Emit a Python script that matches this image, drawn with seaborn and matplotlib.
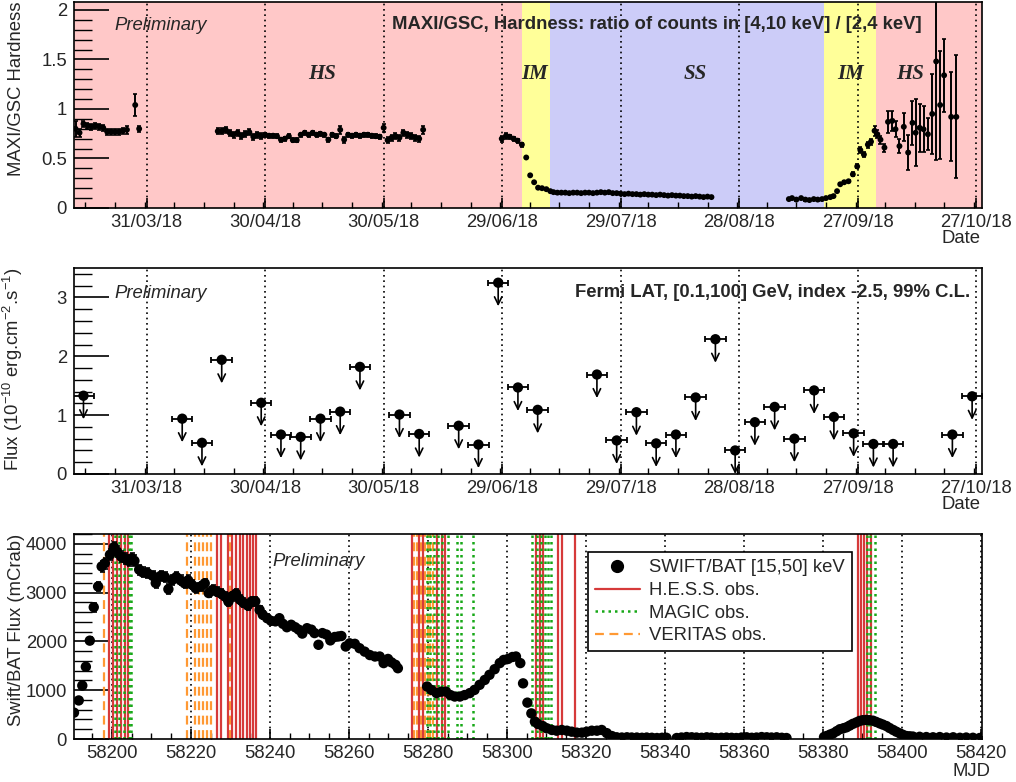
import numpy as np
import pandas as pd
import seaborn as sns
import matplotlib
matplotlib.use("Agg")
import matplotlib.pyplot as plt
from matplotlib.ticker import MultipleLocator, FixedLocator
from matplotlib.lines import Line2D

# ---------------- data ----------------
# MAXI/GSC hardness ratio
hard_mjd = [58190.0, 58191.0, 58192.0, 58193.0, 58194.0, 58195.0, 58196.0, 58197.0, 58198.0, 58199.0,
            58200.0, 58201.0, 58202.0, 58203.0, 58205.1, 58206.1,
            58226, 58227, 58228, 58229, 58230, 58231, 58232, 58233, 58234, 58235,
            58236, 58237, 58238, 58239, 58240, 58241, 58242, 58243, 58244, 58245,
            58246, 58247, 58248, 58249, 58250, 58251, 58252, 58253, 58254, 58255,
            58256, 58257, 58258, 58259, 58260, 58261, 58262, 58263, 58264, 58265,
            58266, 58267, 58268, 58269, 58270, 58271, 58272, 58273, 58274, 58275,
            58276, 58277, 58278,
            58297.9, 58299.0, 58299.9, 58300.9, 58301.9, 58303.0, 58304.1, 58305.1, 58306.1, 58307.1,
            58308.1, 58309.2, 58310.2,
            58311, 58312, 58313, 58314, 58315, 58316, 58317, 58318, 58319, 58320,
            58321, 58322, 58323, 58324, 58325, 58326, 58327, 58328, 58329, 58330,
            58331, 58332, 58333, 58334, 58335, 58336, 58337, 58338, 58339, 58340,
            58341, 58342, 58343, 58344, 58345, 58346, 58347, 58348, 58349, 58350, 58351,
            58370.6, 58371.4, 58372.5, 58373.7, 58374.8, 58375.8, 58376.9, 58377.9, 58379.0, 58380.0,
            58381.1, 58381.9, 58382.8, 58383.6, 58384.6, 58385.7, 58386.8, 58387.9, 58388.7, 58389.6,
            58390.6, 58391.4, 58392.3, 58393.0, 58393.8, 58394.8, 58395.7, 58396.8, 58397.6, 58398.6,
            58399.7, 58400.8, 58401.9, 58402.7, 58403.7, 58404.7, 58405.8, 58406.9, 58407.9, 58408.9,
            58409.9, 58411.7, 58413.0]
hard_val = [0.80, 0.76, 0.85, 0.83, 0.82, 0.83, 0.82, 0.81, 0.77, 0.77,
            0.77, 0.77, 0.78, 0.79, 1.04, 0.80,
            0.775, 0.775, 0.79, 0.76, 0.74, 0.76, 0.73, 0.75, 0.765, 0.72,
            0.74, 0.725, 0.74, 0.73, 0.73, 0.725, 0.69, 0.70, 0.725, 0.685,
            0.685, 0.74, 0.76, 0.74, 0.76, 0.74, 0.75, 0.74, 0.69, 0.74,
            0.725, 0.79, 0.69, 0.74, 0.73, 0.74, 0.73, 0.74, 0.74, 0.73,
            0.725, 0.72, 0.81, 0.685, 0.71, 0.725, 0.71, 0.76, 0.74, 0.725,
            0.71, 0.70, 0.79,
            0.70, 0.73, 0.72, 0.70, 0.68, 0.64, 0.51, 0.33, 0.26, 0.205,
            0.20, 0.19, 0.17,
            0.16, 0.155, 0.155, 0.155, 0.15, 0.155, 0.155, 0.15, 0.155, 0.155,
            0.15, 0.155, 0.16, 0.155, 0.16, 0.15, 0.15, 0.145, 0.14, 0.145,
            0.14, 0.14, 0.135, 0.14, 0.135, 0.135, 0.13, 0.135, 0.13, 0.125,
            0.13, 0.125, 0.125, 0.12, 0.12, 0.115, 0.12, 0.115, 0.11, 0.115, 0.11,
            0.09, 0.10, 0.085, 0.10, 0.085, 0.08, 0.09, 0.085, 0.09, 0.10,
            0.11, 0.12, 0.17, 0.24, 0.26, 0.27, 0.34, 0.42, 0.585, 0.54,
            0.64, 0.67, 0.78, 0.745, 0.69, 0.61, 0.87, 0.88, 0.795, 0.625,
            0.82, 0.56, 0.86, 0.76, 0.81, 0.795, 0.745, 0.95, 1.48, 1.04,
            1.34, 0.92, 0.92]
hard_err = [0.08, 0.04, 0.03, 0.03, 0.03, 0.03, 0.03, 0.03, 0.03, 0.03,
            0.03, 0.03, 0.03, 0.04, 0.11, 0.03,
            0.03, 0.03, 0.03, 0.03, 0.03, 0.03, 0.03, 0.03, 0.03, 0.03,
            0.03, 0.03, 0.02, 0.02, 0.02, 0.02, 0.02, 0.02, 0.02, 0.02,
            0.02, 0.02, 0.02, 0.02, 0.02, 0.02, 0.02, 0.02, 0.02, 0.02,
            0.02, 0.04, 0.03, 0.02, 0.02, 0.02, 0.02, 0.02, 0.02, 0.02,
            0.02, 0.02, 0.04, 0.03, 0.03, 0.03, 0.03, 0.03, 0.03, 0.03,
            0.03, 0.03, 0.04,
            0.03, 0.03, 0.02, 0.02, 0.02, 0.02, 0.01, 0.01, 0.01, 0.01,
            0.01, 0.01, 0.01,
            0.01, 0.01, 0.01, 0.01, 0.01, 0.01, 0.01, 0.01, 0.01, 0.01,
            0.01, 0.01, 0.01, 0.01, 0.01, 0.01, 0.01, 0.01, 0.01, 0.01,
            0.01, 0.01, 0.01, 0.01, 0.01, 0.01, 0.01, 0.01, 0.01, 0.01,
            0.01, 0.01, 0.01, 0.01, 0.01, 0.01, 0.01, 0.01, 0.01, 0.01, 0.01,
            0.01, 0.01, 0.01, 0.01, 0.01, 0.01, 0.01, 0.01, 0.01, 0.01,
            0.01, 0.01, 0.01, 0.01, 0.01, 0.01, 0.02, 0.02, 0.03, 0.03,
            0.03, 0.03, 0.05, 0.04, 0.04, 0.04, 0.11, 0.10, 0.08, 0.07,
            0.14, 0.18, 0.22, 0.34, 0.24, 0.23, 0.16, 0.40, 1.00, 0.55,
            0.37, 0.45, 0.62]

# Fermi LAT upper limits (5-day bins)
fermi_mjd = [58192, 58217, 58222, 58227, 58237, 58242, 58247, 58252, 58257, 58262,
             58272, 58277, 58287, 58292, 58297, 58302, 58307, 58322, 58327, 58332,
             58337, 58342, 58347, 58352, 58357, 58362, 58367, 58372, 58377, 58382,
             58387, 58392, 58397, 58412, 58417]
fermi_ul = [1.33, 0.94, 0.53, 1.94, 1.21, 0.67, 0.63, 0.94, 1.06, 1.82,
            1.01, 0.68, 0.82, 0.50, 3.25, 1.47, 1.09, 1.69, 0.57, 1.05,
            0.52, 0.67, 1.30, 2.29, 0.40, 0.88, 1.14, 0.60, 1.42, 0.97,
            0.69, 0.51, 0.51, 0.67, 1.32]
fermi_halfbin = 2.6

# Swift/BAT light curve
bat_mjd = [58190.4, 58191.6, 58192.5, 58193.4, 58194.4, 58195.4, 58196.5, 58197.4, 58198.2, 58199.5,
           58200.5, 58201.3, 58202.3, 58203.3, 58204.2, 58205.0, 58205.7, 58206.9, 58207.8, 58209.0,
           58210.3, 58211.1, 58212.4, 58213.4, 58214.3, 58215.3, 58216.3, 58217.4, 58218.4, 58219.3,
           58220.2, 58221.2, 58222.5, 58223.5, 58224.5, 58225.5, 58226.5, 58227.6, 58228.6, 58229.5,
           58230.3, 58231.4, 58232.4, 58233.3, 58234.4, 58235.4, 58236.3, 58237.4, 58238.2, 58239.3,
           58240.3, 58241.4, 58242.4, 58243.3, 58244.3, 58245.4, 58246.4, 58247.3, 58248.2, 58249.4,
           58250.5, 58251.3, 58252.3, 58253.3, 58254.3, 58255.3, 58256.4, 58257.3, 58258.1, 58259.2,
           58260.2, 58261.5, 58262.7, 58264.0, 58265.3, 58266.6, 58267.8, 58268.8, 58269.9, 58270.8,
           58271.8, 58272.4,
           58279.8, 58280.9, 58282.2, 58283.4, 58284.6, 58285.7, 58286.8, 58288.1, 58289.3, 58290.6,
           58291.8, 58293.1, 58294.4, 58295.6, 58296.9, 58298.2, 58299.2, 58300.3, 58301.4, 58302.3,
           58303.4, 58304.1, 58305.2, 58306.2, 58307.1, 58307.9, 58309.1, 58310.1, 58311.4, 58312.6,
           58313.9, 58315.2, 58316.4, 58317.7, 58319.0, 58320.2, 58321.5, 58322.8, 58324.0, 58325.3,
           58326.6, 58327.8, 58329.1, 58330.4, 58331.6, 58332.9, 58334.2, 58335.4, 58336.7, 58338.0,
           58339.3, 58340.4, 58343.0, 58344.2, 58345.5, 58346.8, 58348.0, 58349.3, 58350.6, 58351.8,
           58353.0, 58354.3, 58355.6, 58356.9, 58358.1, 58359.4, 58360.7, 58362.0, 58363.2, 58364.5,
           58365.8, 58367.0, 58368.3, 58369.6, 58370.8,
           58380.3, 58380.9, 58381.8, 58382.6, 58383.5, 58384.3, 58385.2, 58386.0, 58386.8, 58387.6,
           58388.5, 58389.3, 58390.1, 58391.0, 58391.8, 58392.7, 58393.5, 58394.4, 58395.2, 58396.1,
           58396.9, 58397.8, 58398.6, 58399.5, 58400.3, 58401.2, 58402.0, 58402.8, 58404.5, 58406.2,
           58407.9, 58409.6, 58411.3, 58413.0, 58414.7, 58416.3, 58418.0, 58419.7]
bat_flux = [540, 790, 1095, 1480, 2015, 2700, 3125, 3535, 3600, 3775,
            3930, 3840, 3740, 3700, 3650, 3700, 3650, 3470, 3415, 3400,
            3345, 3195, 3345, 3320, 3070, 3260, 3320, 3250, 3190, 3250,
            3165, 3090, 3125, 3190, 2990, 3055, 3020, 2980, 2920, 2815,
            2920, 2980, 2855, 2790, 2735, 2820, 2820, 2645, 2545, 2475,
            2420, 2410, 2475, 2360, 2290, 2340, 2290, 2240, 2160, 2270,
            2240, 2170, 1930, 2170, 2140, 2020, 2090, 2100, 2110, 1895,
            1960, 1950, 1860, 1790, 1720, 1690, 1690, 1555, 1640, 1570,
            1520, 1450,
            1075, 1005, 940, 970, 970, 900, 870, 870, 900, 940,
            1005, 1110, 1210, 1315, 1430, 1555, 1620, 1640, 1680, 1690,
            1555, 1140, 745, 525, 355, 305, 265, 220, 185, 170,
            185, 170, 150, 130, 130, 150, 170, 170, 185, 120,
            60, 35, 30, 35, 30, 30, 25, 30, 25, 20,
            25, 25, 20, 30, 40, 35, 30, 25, 35, 30,
            20, 25, 30, 25, 20, 30, 35, 25, 30, 40,
            35, 30, 35, 25, 20,
            40, 60, 90, 115, 160, 200, 220, 240, 275, 310,
            340, 370, 385, 390, 385, 375, 350, 320, 295, 265,
            225, 185, 150, 115, 85, 60, 55, 50, 45, 40,
            35, 40, 30, 35, 25, 30, 25, 20]
bat_err = [40, 45, 50, 60, 70, 90, 100, 110, 110, 110,
           110, 110, 110, 110, 110, 110, 110, 100, 100, 100,
           100, 100, 100, 100, 100, 100, 100, 100, 100, 100,
           100, 100, 90, 90, 90, 90, 90, 90, 90, 90,
           90, 90, 90, 90, 90, 90, 90, 80, 80, 80,
           60, 60, 60, 60, 60, 60, 60, 60, 60, 60,
           60, 60, 60, 60, 60, 60, 60, 60, 60, 60,
           50, 50, 50, 50, 50, 50, 50, 50, 50, 50,
           50, 50,
           40, 40, 40, 40, 40, 40, 40, 40, 40, 40,
           40, 40, 40, 40, 40, 40, 40, 40, 40, 40,
           40, 40, 30, 30, 30, 30, 30, 30, 30, 30,
           30, 30, 30, 30, 30, 30, 30, 30, 30, 30,
           20, 20, 20, 20, 20, 20, 20, 20, 20, 20,
           20, 20, 20, 20, 20, 20, 20, 20, 20, 20,
           20, 20, 20, 20, 20, 20, 20, 20, 20, 20,
           20, 20, 20, 20, 20,
           20, 20, 20, 20, 20, 20, 20, 20, 20, 20,
           20, 20, 20, 20, 20, 20, 20, 20, 20, 20,
           20, 20, 20, 20, 20, 20, 20, 20, 20, 20,
           20, 20, 20, 20, 20, 20, 20, 20]

# IACT observation dates (MJD)
hess_mjd = [58199.3, 58200.2, 58201.4, 58202.3, 58203.2, 58204.0,
            58226.5, 58227.5, 58229.5, 58230.3, 58231.4, 58232.4, 58233.2, 58234.1, 58234.9, 58235.8, 58236.6,
            58276.1, 58277.8, 58278.8, 58282.4, 58283.5, 58284.3,
            58307.3, 58308.4, 58309.2, 58313.0, 58314.0, 58317.2,
            58388.9, 58389.6, 58390.4, 58391.3, 58392.2]
magic_mjd = [58200.8, 58201.8, 58203.0, 58204.4, 58204.9,
             58279.7, 58280.5, 58281.5, 58282.6, 58283.7, 58285.1, 58287.4, 58288.5, 58291.5,
             58306.3, 58307.6, 58308.6, 58309.7, 58310.5, 58311.3,
             58391.1, 58391.9, 58393.2]
veritas_mjd = [58198.0, 58218.9, 58221.0, 58222.0, 58223.0, 58224.0, 58225.0, 58229.9,
               58276.5, 58277.2, 58278.0, 58278.6, 58279.3, 58280.0, 58280.6, 58281.4]

# date axis of the two upper panels
date_tick_mjd = [58208, 58238, 58268, 58298, 58328, 58358, 58388, 58418]
date_tick_labels = ["31/03/18", "30/04/18", "30/05/18", "29/06/18",
                    "29/07/18", "28/08/18", "27/09/18", "27/10/18"]

# spectral states
state_edges = [58189.6, 58303.0, 58310.1, 58379.5, 58392.7, 58419.5]
state_names = ["HS", "IM", "SS", "IM", "HS"]
state_label_mjd = [58252.4, 58306.3, 58346.9, 58386.1, 58401.3]
state_colors = ["#ffc8c8", "#ffff99", "#ccccf8", "#ffff99", "#ffc8c8"]

# ---------------- style ----------------
sns.set_theme(style="white")
plt.rcParams["font.family"] = ["Liberation Sans", "DejaVu Sans"]
plt.rcParams["mathtext.default"] = "regular"
plt.rcParams["axes.linewidth"] = 1.2

FS = 13.3
fig = plt.figure(figsize=(10.16, 7.82), dpi=100)
L, W = 74 / 1016, 908 / 1016
ax1 = fig.add_axes([L, 1 - 208 / 782, W, 206 / 782])
ax2 = fig.add_axes([L, 1 - 474 / 782, W, 206 / 782])
ax3 = fig.add_axes([L, 1 - 739 / 782, W, 205 / 782])

def style_axis(ax):
    for s in ax.spines.values():
        s.set_color("black")
        s.set_linewidth(1.2)
    ax.tick_params(axis="y", which="major", direction="in", length=25, width=1.2,
                   labelsize=FS, pad=5, left=True, right=False, color="black")
    ax.tick_params(axis="y", which="minor", direction="in", length=13, width=1.0,
                   left=True, right=False, color="black")
    ax.tick_params(axis="x", which="major", direction="in", length=7, width=1.2,
                   labelsize=FS, pad=4, bottom=True, top=False, color="black")
    ax.tick_params(axis="x", which="minor", direction="in", length=4, width=1.0,
                   bottom=True, top=False, color="black")
    ax.grid(False)
    ax.xaxis.grid(True, which="major", linestyle=(0, (1, 2.2)), color="black", linewidth=1.2)

# ---------------- top: hardness ----------------
ax = ax1
for i in range(len(state_names)):
    ax.axvspan(state_edges[i], state_edges[i + 1], color=state_colors[i], lw=0, zorder=0)
ax.errorbar(hard_mjd, hard_val, yerr=hard_err, fmt="none", ecolor="black",
            elinewidth=1.4, capsize=1.5, capthick=1.2, zorder=3)
sns.scatterplot(x=hard_mjd, y=hard_val, ax=ax, color="black", s=18, edgecolor="none",
                zorder=4, legend=False)
ax.set_xlim(58189.6, 58419.5)
ax.set_ylim(0, 2.08)
style_axis(ax)
ax.xaxis.set_major_locator(FixedLocator(date_tick_mjd))
ax.set_xticklabels(date_tick_labels)
ax.xaxis.set_minor_locator(MultipleLocator(7.5))
ax.yaxis.set_minor_locator(MultipleLocator(0.1))
ax.set_yticks([0, 0.5, 1, 1.5, 2])
ax.set_yticklabels(["0", "0.5", "1", "1.5", "2"])
ax.set_ylabel("MAXI/GSC Hardness", fontsize=FS, loc="top")
ax.yaxis.set_label_coords(-0.054, 1.0)
ax.set_xlabel("Date", fontsize=FS, loc="right")
ax.xaxis.set_label_coords(0.998, -0.105)
ax.xaxis.label.set_va("top")
for nm, xm in zip(state_names, state_label_mjd):
    ax.text(xm, 1.35, nm, fontsize=15, fontweight="bold", fontstyle="italic",
            family="Liberation Serif", ha="center", va="center", zorder=5)
ax.text(0.045, 0.885, "Preliminary", transform=ax.transAxes, fontsize=FS,
        fontstyle="italic", ha="left", va="center", zorder=5)
ax.text(0.934, 0.893, "MAXI/GSC, Hardness: ratio of counts in [4,10 keV] / [2,4 keV]",
        transform=ax.transAxes, fontsize=FS, fontweight="bold", ha="right", va="center", zorder=5)

# ---------------- middle: Fermi ----------------
ax = ax2
ax.errorbar(fermi_mjd, fermi_ul, xerr=fermi_halfbin, fmt="none", ecolor="black",
            elinewidth=1.3, capsize=2.5, capthick=1.3, zorder=3)
sns.scatterplot(x=fermi_mjd, y=fermi_ul, ax=ax, color="black", s=55, edgecolor="none",
                zorder=4, legend=False)
for xm, v in zip(fermi_mjd, fermi_ul):
    ax.annotate("", xy=(xm, v - 0.40), xytext=(xm, v),
                arrowprops=dict(arrowstyle="->,head_width=0.22,head_length=0.45",
                                color="black", lw=1.2, shrinkA=0, shrinkB=0), zorder=3)
ax.set_xlim(58189.6, 58419.5)
ax.set_ylim(0, 3.5)
style_axis(ax)
ax.xaxis.set_major_locator(FixedLocator(date_tick_mjd))
ax.set_xticklabels(date_tick_labels)
ax.xaxis.set_minor_locator(MultipleLocator(7.5))
ax.yaxis.set_major_locator(MultipleLocator(1))
ax.yaxis.set_minor_locator(MultipleLocator(0.2))
ax.set_ylabel("Flux (10$^{-10}$ erg.cm$^{-2}$.s$^{-1}$)", fontsize=FS, loc="top")
ax.yaxis.set_label_coords(-0.054, 1.0)
ax.set_xlabel("Date", fontsize=FS, loc="right")
ax.xaxis.set_label_coords(0.998, -0.105)
ax.xaxis.label.set_va("top")
ax.text(0.045, 0.874, "Preliminary", transform=ax.transAxes, fontsize=FS,
        fontstyle="italic", ha="left", va="center", zorder=5)
ax.text(0.987, 0.879, "Fermi LAT, [0.1,100] GeV, index -2.5, 99% C.L.",
        transform=ax.transAxes, fontsize=FS, fontweight="bold", ha="right", va="center", zorder=5)

# ---------------- bottom: Swift/BAT ----------------
ax = ax3
RED, GREEN, ORANGE = "#d63a3a", "#17a817", "#ff9933"
for xm in veritas_mjd:
    ax.axvline(xm, color=ORANGE, lw=1.6, linestyle=(0, (4, 2.5)), zorder=2)
for xm in hess_mjd:
    ax.axvline(xm, color=RED, lw=1.6, linestyle="-", zorder=2)
for xm in magic_mjd:
    ax.axvline(xm, color=GREEN, lw=1.8, linestyle=(0, (1, 1.6)), zorder=2)
ax.errorbar(bat_mjd, bat_flux, yerr=bat_err, fmt="none", ecolor="black",
            elinewidth=1.3, capsize=1.8, capthick=1.2, zorder=3)
sns.scatterplot(x=bat_mjd, y=bat_flux, ax=ax, color="black", s=56, edgecolor="none",
                zorder=4, legend=False)
ax.set_xlim(58190.4, 58420.3)
ax.set_ylim(0, 4200)
style_axis(ax)
ax.xaxis.set_major_locator(MultipleLocator(20))
ax.xaxis.set_minor_locator(MultipleLocator(5))
ax.xaxis.set_major_formatter(matplotlib.ticker.FuncFormatter(lambda v, p: f"{v:.0f}"))
ax.yaxis.set_major_locator(MultipleLocator(1000))
ax.yaxis.set_minor_locator(MultipleLocator(200))
ax.set_ylabel("Swift/BAT Flux (mCrab)", fontsize=FS, loc="top")
ax.yaxis.set_label_coords(-0.054, 1.0)
ax.set_xlabel("MJD", fontsize=FS, loc="right")
ax.xaxis.set_label_coords(1.009, -0.115)
ax.xaxis.label.set_va("top")
ax.text(0.218, 0.867, "Preliminary", transform=ax.transAxes, fontsize=FS,
        fontstyle="italic", ha="left", va="center", zorder=5)

handles = [
    Line2D([], [], marker="o", color="black", linestyle="none", markersize=8.5),
    Line2D([], [], color=RED, lw=1.6),
    Line2D([], [], color=GREEN, lw=1.8, linestyle=(0, (1, 1.6))),
    Line2D([], [], color=ORANGE, lw=1.6, linestyle=(0, (4, 2.5))),
]
labels = ["SWIFT/BAT [15,50] keV", "H.E.S.S. obs.", "MAGIC obs.", "VERITAS obs."]
leg = ax.legend(handles, labels, loc="upper left", bbox_to_anchor=(0.566, 0.912),
                fontsize=FS, frameon=True, fancybox=False, framealpha=1,
                edgecolor="black", handlelength=2.4, handletextpad=0.5,
                borderpad=0.4, labelspacing=0.3, borderaxespad=0)
leg.get_frame().set_linewidth(1.2)
leg.set_zorder(6)

fig.savefig("out.png", dpi=100)
